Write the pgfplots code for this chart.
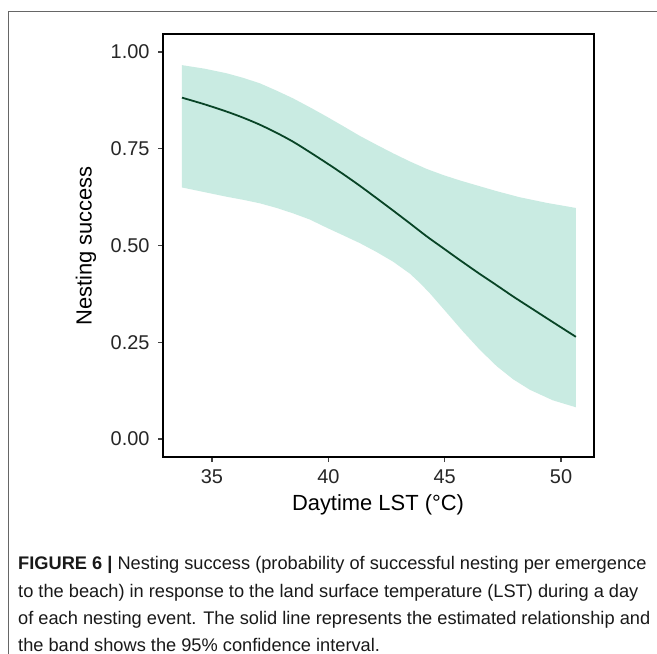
\documentclass[border=0pt]{standalone}
\usepackage{pgfplots}
\pgfplotsset{compat=1.18}
\usepackage{fontspec}
\setmainfont{Liberation Sans}
\definecolor{bandfill}{RGB}{201,235,226}
\definecolor{linecol}{RGB}{8,68,38}
\pgfplotstableread{
x y
33.71 0.882
34.67 0.865
35.63 0.846
36.35 0.830
37.06 0.812
37.78 0.791
38.49 0.768
39.21 0.741
39.93 0.713
40.65 0.684
41.36 0.654
42.08 0.622
42.79 0.590
43.51 0.557
44.22 0.524
44.94 0.493
45.66 0.462
46.52 0.426
47.24 0.397
47.95 0.368
48.67 0.340
49.65 0.302
50.64 0.264
}\fitlinetab
\pgfplotstableread{
x y
33.71 0.966
34.67 0.957
35.63 0.945
36.35 0.933
37.06 0.919
37.78 0.900
38.49 0.880
39.21 0.857
39.93 0.833
40.65 0.808
41.36 0.783
42.08 0.760
42.79 0.738
43.51 0.717
44.22 0.698
44.94 0.682
45.66 0.668
46.40 0.655
47.20 0.641
48.20 0.625
49.40 0.610
50.64 0.597
50.64 0.082
49.65 0.100
48.67 0.127
47.95 0.154
47.24 0.188
46.52 0.230
45.80 0.277
45.08 0.327
44.37 0.376
43.94 0.403
43.51 0.427
42.79 0.458
42.08 0.483
41.36 0.506
40.65 0.526
39.93 0.546
39.21 0.567
38.49 0.583
37.78 0.597
37.06 0.609
36.35 0.618
35.63 0.626
34.67 0.638
33.71 0.650
}\bandtab
\begin{document}
\begin{tikzpicture}
\useasboundingbox (0bp,0bp) rectangle (657bp,-654bp);
\fill[white] (0bp,0bp) rectangle (657bp,-654bp);
\draw[black!60, line width=1bp] (8bp,-656bp) -- (8bp,-11bp) -- (659bp,-11bp);
\begin{axis}[
  at={(163bp,-457bp)}, anchor=south west,
  scale only axis, width=431bp, height=423bp,
  xmin=32.894, xmax=51.418, ymin=-0.0465, ymax=1.0465,
  xtick={35,40,45,50}, ytick={0,0.25,0.5,0.75,1},
  /pgf/number format/assume math mode=true,
  ticklabel style={font=\fontsize{20}{24}\selectfont, text=black!85},
  yticklabel style={xshift=-5bp, /pgf/number format/.cd, fixed, fixed zerofill, precision=2},
  xticklabel style={yshift=-4bp},
  tick align=outside, major tick length=5bp,
  tick style={line width=1.1bp, black!75},
  xtick pos=bottom, ytick pos=left,
  axis line style={line width=2.4bp, black},
  axis on top,
]
\addplot[fill=bandfill, draw=none] table {\bandtab} -- cycle;
\addplot[linecol, line width=1.8bp, smooth] table {\fitlinetab};
\end{axis}
\node[font=\fontsize{22}{26}\selectfont, text=black] at (378bp,-505bp) {Daytime LST (°C)};
\node[rotate=90, font=\fontsize{22}{26}\selectfont, text=black] at (86bp,-246bp) {Nesting success};
\begin{scope}[every node/.style={anchor=base west, inner sep=0pt, font=\fontsize{18.3}{27}\selectfont, text=black!90}]
\node at (18bp,-569bp) {\textbf{FIGURE 6 |} Nesting success (probability of successful nesting per emergence};
\node at (18bp,-597bp) {to the beach) in response to the land surface temperature (LST) during a day};
\node at (18bp,-624bp) {of each nesting event. The solid line represents the estimated relationship and};
\node at (18bp,-651bp) {the band shows the 95\% confidence interval.};
\end{scope}
\end{tikzpicture}
\end{document}
